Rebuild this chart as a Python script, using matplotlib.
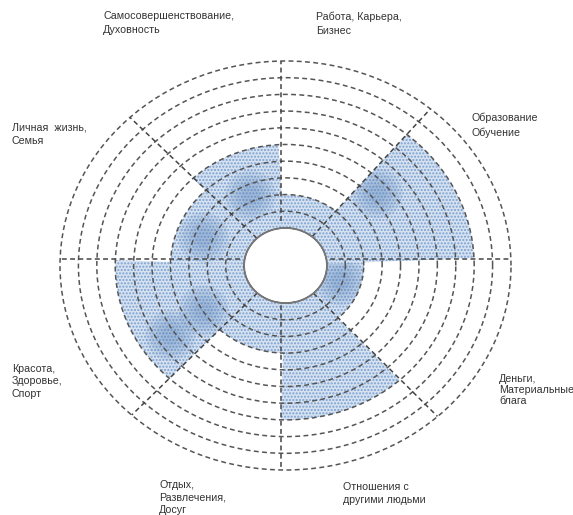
import numpy as np
import matplotlib
matplotlib.use('Agg')
import matplotlib.pyplot as plt
from matplotlib.transforms import ScaledTranslation

# 각 구역의 점수 (시계 방향, 위쪽에서 시작)
sector_names = ['Работа, Карьера,\nБизнес', 'Образование\nОбучение', 'Деньги,\nМатериальные\nблага',
                'Отношения с\nдругими людьми', 'Отдых,\nРазвлечения,\nДосуг', 'Красота,\nЗдоровье,\nСпорт',
                'Личная  жизнь,\nСемья', 'Самосовершенствование,\nДуховность']
sector_values = [2, 8, 2, 7, 3, 7, 4, 5]
# 구역 경계 각도 (도)
sector_edges = [93, 50, 2.5, -48, -91.5, -133, -182, -226, -267]
axis_spokes = [90, 0, 180, 270]
diagonal_spokes = [50, -47.6, 227, 133.6]
rings = list(range(1, 11))

# 진한 얼룩: 속한 구역, 각도, 반지름
clump_sector = [7, 6, 1, 5, 5, 2]
clump_angle = [114.5, 159, 41, 210.8, 213.6, -16]
clump_r = [2.4, 2.55, 4.35, 2.97, 5.28, 0.84]

# 라벨 위치 (픽셀, 왼쪽 위) / 줄 간격
label_pos = [(316, 12), (471, 113), (499, 374), (343, 482), (159, 480), (12, 364), (12, 122), (103, 11)]
label_spacing = [1.5, 1.5, 1.12, 1.4, 1.3, 1.3, 1.5, 1.5]

plt.rcParams['font.family'] = ['Liberation Sans', 'DejaVu Sans']

fig = plt.figure(figsize=(5.73, 5.15), dpi=100)
ax = fig.add_axes([60/573, (515-470)/515, 451/573, 409/515], projection='polar')
ax.set_aspect('auto')
ax.set_rorigin(-2.25)
ax.set_rlim(0, 10)

# 점수 구역
edges = np.radians(sector_edges)
bars = []
for i, value in enumerate(sector_values):
	b = ax.bar((edges[i]+edges[i+1])/2, value, width=abs(edges[i+1]-edges[i]), bottom=0,
		color='#d6e2f1', edgecolor='#7ba0cf', hatch='.....', linewidth=0, zorder=1)
	bars.append(b[0])

# 얼룩: 크기를 달리해 겹쳐 그리고 구역 안으로 자름
for sector, angle, r in zip(clump_sector, clump_angle, clump_r):
	for size in [1300, 850, 450, 180]:
		dots = ax.scatter(np.radians(angle), r, s=size, color='#5f87bd', alpha=0.14, linewidths=0, zorder=1.5)
		dots.set_clip_path(bars[sector].get_path(), bars[sector].get_transform())

# 동심원
ax.set_yticks(rings)
ax.set_yticklabels([])
ax.set_xticks([])
ax.grid(axis='y', color='#555555', linewidth=1.1, linestyle=(0, (3.2, 2.2)), zorder=2)
for line in ax.yaxis.get_gridlines():
	line.set_clip_on(False)

# 방사선
shift = ax.transData + ScaledTranslation(-0.045, 0.065, fig.dpi_scale_trans)
for angle in axis_spokes:
	ax.plot([np.radians(angle)]*2, [0, 10.2], color='#444444', lw=1.1, ls=(0, (3.2, 2.2)), transform=shift, zorder=3)
for angle in diagonal_spokes:
	ax.plot([np.radians(angle)]*2, [0, 10], color='#444444', lw=1.1, ls=(0, (3.2, 2.2)), zorder=3)

# 가운데 원
theta = np.linspace(0, 2*np.pi, 200)
ax.plot(theta, np.zeros_like(theta), color='#777777', lw=1.3, clip_on=False, zorder=4)

for sp in ax.spines.values():
	sp.set_visible(False)
ax.patch.set_visible(False)
ax.set_rlim(0, 10)

for name, (x, y), gap in zip(sector_names, label_pos, label_spacing):
	fig.text(x/573, 1-y/515, name, fontsize=7.7, color='#333333', ha='left', va='top', linespacing=gap)

fig.savefig('out.png', dpi=100)
